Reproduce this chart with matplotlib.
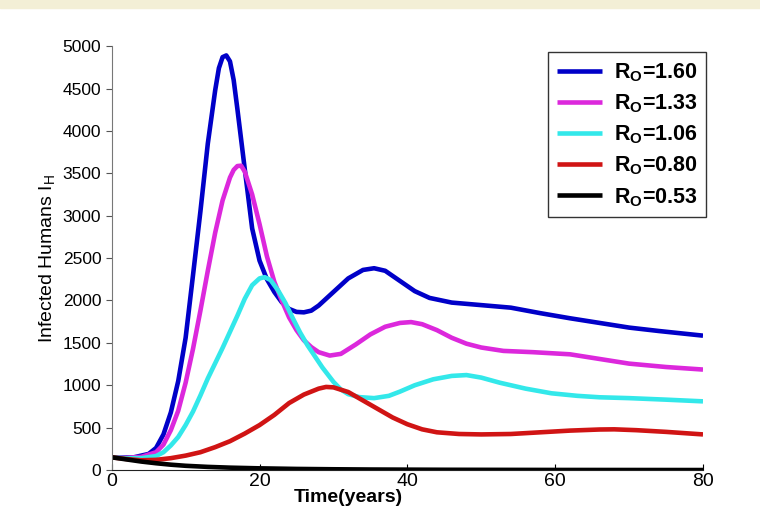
import matplotlib
matplotlib.use('Agg')
import matplotlib.pyplot as plt
from matplotlib.patches import Rectangle

plt.rcParams['font.family'] = ['Liberation Sans', 'DejaVu Sans']
plt.rcParams['mathtext.fontset'] = 'custom'
plt.rcParams['mathtext.rm'] = 'Liberation Sans'
plt.rcParams['mathtext.bf'] = 'Liberation Sans:bold'

# values
t_160 = [0, 1, 3, 5, 6, 7, 8, 9, 10, 11, 12, 13, 14, 14.5, 15, 15.5, 16, 16.5, 17, 18,
         19, 20, 21, 22, 23, 24, 25, 26, 27, 28, 30, 32, 34, 35.5, 37, 39, 41, 43, 46,
         50, 54, 58, 62, 66, 70, 74, 80]
i_160 = [150, 150, 150, 190, 260, 420, 680, 1050, 1560, 2300, 3050, 3850, 4480, 4740,
         4870, 4890, 4820, 4600, 4260, 3550, 2850, 2470, 2250, 2100, 1980, 1900, 1865,
         1860, 1880, 1940, 2100, 2260, 2360, 2380, 2350, 2230, 2110, 2030, 1975, 1945,
         1915, 1850, 1790, 1735, 1680, 1640, 1585]

t_133 = [0, 2, 4, 6, 7, 8, 9, 10, 11, 12, 13, 14, 15, 16, 16.5, 17, 17.5, 18, 19, 20,
         21, 22, 23, 24, 25, 26, 27, 28, 29.5, 31, 33, 35, 37, 39, 40.5, 42, 44, 46, 48,
         50, 53, 57, 62, 66, 70, 75, 80]
i_133 = [150, 145, 155, 210, 300, 470, 700, 1030, 1430, 1880, 2350, 2800, 3180, 3450,
         3540, 3585, 3590, 3520, 3250, 2900, 2520, 2220, 2000, 1800, 1650, 1530, 1450,
         1390, 1350, 1370, 1480, 1600, 1690, 1735, 1745, 1720, 1650, 1560, 1490, 1445,
         1405, 1390, 1365, 1310, 1255, 1215, 1185]

t_106 = [0, 2, 4, 6, 7, 8, 9, 10, 11, 12, 13, 14, 15, 16, 17, 18, 19, 20, 20.7, 21.5,
         22.5, 23.5, 24.5, 25.5, 26.5, 27.5, 28.5, 30, 31, 32, 33.5, 35.5, 37.5, 39, 41,
         43.5, 46, 48, 50, 52.5, 56, 59.5, 63, 66, 70, 75, 80]
i_106 = [150, 140, 140, 165, 210, 290, 390, 530, 690, 880, 1080, 1260, 1440, 1630,
         1820, 2020, 2180, 2260, 2275, 2240, 2120, 1970, 1790, 1620, 1470, 1340, 1210,
         1040, 950, 895, 860, 848, 875, 925, 1000, 1070, 1110, 1120, 1090, 1030, 960,
         905, 875, 858, 848, 830, 810]

t_080 = [0, 2, 4, 6, 8, 10, 12, 14, 16, 18, 20, 22, 24, 26, 28, 29, 30, 32, 34, 36,
         38, 40, 42, 44, 47, 50, 54, 58, 62, 66, 68, 71, 75, 80]
i_080 = [150, 130, 115, 120, 140, 170, 210, 270, 340, 430, 530, 650, 790, 890, 960,
         980, 975, 920, 820, 720, 620, 540, 480, 445, 425, 420, 425, 445, 465, 478, 480,
         470, 450, 420]

t_053 = [0, 2, 4, 6, 8, 10, 13, 16, 20, 25, 30, 35, 45, 60, 80]
i_053 = [150, 125, 100, 80, 63, 50, 37, 28, 20, 13, 9, 6, 3, 1, 0]

labels = [r'$\mathbf{R_O}$=1.60', r'$\mathbf{R_O}$=1.33', r'$\mathbf{R_O}$=1.06',
          r'$\mathbf{R_O}$=0.80', r'$\mathbf{R_O}$=0.53']
colors = ['#0000c8', '#dc28dc', '#33e8ea', '#d01414', '#000000']

fig = plt.figure(figsize=(7.6, 5.24), dpi=100)
fig.patches.append(Rectangle((0, 0.985), 1, 0.015, transform=fig.transFigure,
                             color='#f3efd6', zorder=0))
ax = fig.add_axes([0.147, 0.103, 0.778, 0.809])

series = [(t_160, i_160), (t_133, i_133), (t_106, i_106), (t_080, i_080), (t_053, i_053)]
for (t, v), c, lab in zip(series, colors, labels):
    ax.plot(t, v, color=c, lw=3.3, label=lab, solid_capstyle='butt',
            solid_joinstyle='round')

ax.set_xlim(0, 80)
ax.set_ylim(0, 5000)
ax.set_xticks([0, 20, 40, 60, 80])
ax.set_yticks(range(0, 5001, 500))
ax.spines['top'].set_visible(False)
ax.spines['right'].set_visible(False)
ax.spines['left'].set_color('#777777')
ax.spines['bottom'].set_color('#222222')
ax.tick_params(axis='y', direction='out', length=4, labelsize=12.5, color='#555555')
ax.tick_params(axis='x', direction='in', length=4, labelsize=14, pad=2)

ax.set_xlabel('Time(years)', fontsize=14, fontweight='bold', labelpad=0)
ax.xaxis.set_label_coords(0.40, -0.045)
ax.set_ylabel(r'Infected Humans $\mathrm{I_H}$', fontsize=14, labelpad=4)

leg = ax.legend(loc='upper right', bbox_to_anchor=(1.005, 0.985),
                prop={'weight': 'bold', 'size': 15.5}, handlelength=2.1,
                handletextpad=0.55, labelspacing=0.4, fancybox=False, framealpha=1,
                borderpad=0.4, borderaxespad=0)
leg.get_frame().set_edgecolor('#333333')
leg.get_frame().set_linewidth(1.0)

fig.savefig('out.png', dpi=100)
